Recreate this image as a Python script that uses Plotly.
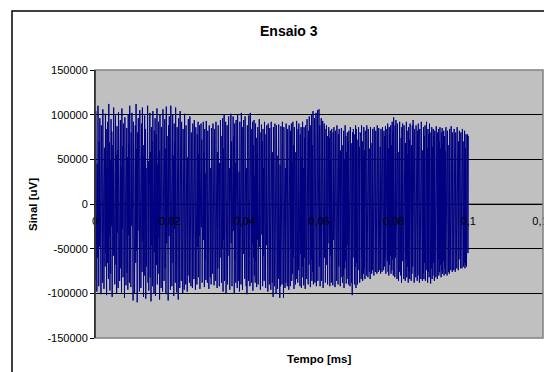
import plotly.graph_objects as go

# Signal values, in thousands of uV (one row = 0.002 ms)
sinal_mil_uV = [
    62, -85, 104, -30, 77, -98, 45, -60, 110, 20, -92, 70, -48, 96, -75, 35, -101, 88, -20, 58,
    -88, 106, -40, 74, -95, 25, 63, -70, 101, -55, 84, -102, 40, -66, 92, 15, -84, 112, -36, 69,
    -97, 50, -78, 95, -25, 81, -104, 30, 66, -58, 108, -45, 73, -90, 22, 99, -68, 55, -100, 87,
    -32, 60, -94, 103, -50, 76, -86, 18, 94, -72, 42, -99, 107, -28, 65, -82, 90, -60, 38, -105,
    97, -44, 70, -91, 28, 85, -77, 52, -96, 100, -35, 68, -88, 110, -62, 46, -93, 80, -24, 102,
    -83, 57, -108, 92, -40, 74, -100, 35, 88, -66, 112, -52, 62, -110, 80, -30, 96, -86, 45, -98,
    105, -58, 72, -94, 26, 90, -76, 108, -42, 66, -104, 54, -80, 99, -20, 84, -106, 40, -70, 94,
    -60, 110, -88, 48, -97, 76, -34, 102, -82, 58, -109, 86, -46, 70, -92, 104, -26, 64, -100, 82,
    -54, 96, -103, 38, 78, -68, 107, -90, 44, -78, 92, -38, 60, -107, 100, -64, 52, -94, 86, -30,
    72, -98, 106, -50, 80, -86, 30, 95, -72, 62, -101, 109, -44, 76, -90, 56, -108, 88, -36, 98,
    -74, 64, -96, 110, -48, 82, -92, 36, 100, -66, 54, -103, 90, -28, 70, -88, 108, -56, 44, -99,
    86, -40, 74, -107, 96, -62, 30, -94, 104, -50, 68, -86, 92, -34, 58, -100, 84, -70, 40, -96,
    101, -54, 66, -90, 88, -24, 76, -98, 52, -80, 95, -46, 62, -88, 98, -60, 36, -92, 80, -42,
    70, -94, 90, -30, 60, -84, 94, -52, 42, -96, 86, -66, 28, -90, 78, -48, 92, -82, 56, -36,
    88, -95, 64, -58, 90, -26, 72, -88, 46, -76, 92, -40, 58, -93, 84, -62, 34, -85, 93, -70,
    50, -88, 82, -44, 66, -95, 88, -30, 74, -82, 40, -90, 85, -56, 62, -78, 90, -36, 54, -91,
    84, -64, 30, -86, 92, -48, 70, -94, 58, -72, 88, -28, 80, -92, 46, -60, 94, -84, 36, -88,
    76, -50, 96, -98, 62, -40, 100, -86, 48, -70, 92, -100, 66, -34, 88, -90, 54, -78, 98, -58,
    40, -96, 84, -66, 101, -44, 70, -92, 56, -84, 98, -30, 76, -100, 90, -62, 46, -88, 94, -72,
    60, -94, 100, -50, 82, -86, 36, -98, 92, -64, 72, -90, 102, -40, 66, -96, 86, -56, 94, -80,
    48, -84, 98, -66, 78, -92, 40, -101, 88, -54, 70, -86, 99, -36, 62, -92, 102, -70, 50, -88,
    84, -44, 92, -97, 66, -60, 94, -80, 32, -88, 90, -64, 74, -93, 56, -40, 86, -90, 66, -72,
    95, -48, 80, -96, 54, -76, 89, -34, 70, -92, 84, -58, 40, -86, 92, -70, 60, -94, 78, -46,
    88, -82, 52, -98, 90, -62, 36, -90, 85, -74, 66, -96, 92, -50, 72, -88, 58, -104, 86, -40,
    76, -92, 90, -58, 64, -100, 88, -46, 70, -95, 54, -84, 89, -66, 80, -105, 44, -92, 87, -60,
    70, -90, 92, -48, 60, -105, 86, -72, 78, -94, 40, -88, 90, -64, 72, -92, 84, -36, 62, -96,
    88, -70, 56, -92, 82, -50, 90, -86, 46, -78, 92, -60, 66, -95, 86, -42, 74, -90, 58, -84,
    93, -66, 48, -88, 84, -74, 90, -30, 68, -92, 78, -56, 86, -94, 52, -70, 92, -82, 40, -91,
    86, -60, 74, -95, 88, -44, 62, -84, 95, -76, 56, -90, 82, -68, 98, -50, 70, -93, 88, -62,
    100, -86, 66, -76, 104, -90, 54, -72, 96, -88, 80, -40, 102, -92, 74, -64, 105, -86, 60, -80,
    106, -70, 88, -92, 58, -80, 96, -86, 72, -50, 93, -94, 64, -76, 90, -60, 84, -88, 46, -82,
    88, -68, 76, -90, 60, -85, 86, -44, 74, -92, 82, -58, 50, -88, 84, -72, 66, -91, 80, -40,
    86, -78, 56, -93, 82, -62, 70, -86, 88, -48, 64, -90, 78, -70, 84, -36, 72, -92, 60, -82,
    85, -56, 74, -88, 66, -80, 82, -94, 50, -72, 88, -64, 76, -89, 58, -84, 80, -46, 70, -90,
    82, -76, 62, -92, 86, -54, 74, -88, 68, -102, 80, -60, 84, -86, 52, -90, 78, -70, 88, -94,
    84, -66, 72, -90, 56, -82, 86, -74, 64, -88, 80, -48, 76, -84, 88, -60, 70, -86, 54, -78,
    86, -72, 60, -84, 82, -56, 74, -80, 88, -64, 52, -82, 84, -70, 78, -76, 62, -84, 86, -50,
    80, -78, 68, -74, 84, -60, 58, -80, 86, -68, 74, -76, 82, -52, 66, -78, 88, -70, 60, -76,
    85, -62, 76, -74, 64, -78, 84, -56, 72, -76, 86, -66, 58, -74, 82, -70, 76, -60, 87, -78,
    70, -72, 84, -64, 90, -76, 62, -80, 86, -68, 78, -58, 88, -78, 66, -74, 92, -62, 80, -80,
    97, -70, 76, -82, 88, -60, 94, -78, 64, -84, 90, -72, 80, -86, 58, -76, 92, -66, 84, -80,
    74, -88, 86, -64, 90, -80, 60, -84, 88, -74, 78, -86, 68, -62, 92, -82, 82, -70, 56, -88,
    86, -76, 72, -84, 90, -58, 80, -86, 66, -78, 88, -70, 94, -84, 62, -88, 84, -66, 76, -82,
    88, -72, 58, -86, 82, -80, 90, -62, 74, -88, 84, -76, 66, -84, 92, -70, 80, -86, 60, -78,
    86, -84, 76, -66, 88, -86, 70, -80, 92, -74, 62, -88, 84, -76, 78, -82, 90, -64, 84, -89,
    80, -72, 86, -84, 64, -80, 84, -66, 76, -86, 82, -70, 58, -82, 87, -74, 72, -84, 80, -62,
    84, -80, 70, -76, 86, -68, 62, -82, 80, -74, 85, -78, 68, -64, 82, -80, 76, -72, 60, -78,
    86, -70, 74, -80, 82, -62, 78, -76, 66, -78, 84, -72, 70, -74, 87, -66, 60, -76, 80, -70,
    78, -74, 84, -66, 72, -76, 80, -70, 64, -72, 86, -68, 76, -74, 70, -62, 82, -70, 74, -72,
    80, -68, 66, -72, 84, -64, 76, -70, 70, -66, 82, -72, 62, -68, 78, -70, 76, -60, 78, -55,
    76,
]

t_final_ms = 0.1
y_tick_vals = [-150000, -100000, -50000, 0, 50000, 100000, 150000]
y_tick_text = ["-150000", "-100000", "-50000", "0", "50000", "100000", "150000"]
x_tick_vals = [0, 0.02, 0.04, 0.06, 0.08, 0.1, 0.12]
x_tick_text = ["0", "0,02", "0,04", "0,06", "0,08", "0,1", "0,12"]

n = len(sinal_mil_uV)
tempo = [t_final_ms * i / (n - 1) for i in range(n)]
sinal = [v * 1000 for v in sinal_mil_uV]

FONT = "Liberation Sans, Arial, sans-serif"

fig = go.Figure()
fig.add_trace(go.Scatter(
    x=tempo, y=sinal, mode="lines",
    line=dict(color="#000080", width=1),
    showlegend=False, hoverinfo="skip",
))

# page body has an 8px default margin: the figure starts at (8, 8)
OFF = 8
W, H = 552 - OFF, 372 - OFF
# target pixel positions in the page
PL, PR, PT, PB = 95, 543, 70, 338
L, T = PL - OFF, PT - OFF
R = W - (PR - OFF)
B = H - (PB - OFF)
pw, ph = W - L - R, H - T - B

def px_x(p):  # page pixel -> paper
    return (p - PL) / pw

def px_y(p):
    return (PB - p) / ph

fig.update_layout(
    width=W, height=H,
    margin=dict(l=L, r=R, t=T, b=B, autoexpand=False),
    paper_bgcolor="white",
    plot_bgcolor="#C0C0C0",
    font=dict(family=FONT, size=11, color="black"),
    xaxis=dict(
        range=[0, 0.12], tickvals=x_tick_vals, ticktext=x_tick_text,
        showgrid=False, zeroline=False, showline=False,
        anchor="free", position=0.5,
        ticks="outside", ticklen=7, tickcolor="rgba(0,0,0,0)",
        ticklabeloverflow="allow",
        tickfont=dict(family=FONT, size=11, color="black"),
        fixedrange=True,
    ),
    yaxis=dict(
        range=[-150000, 150000], tickvals=y_tick_vals, ticktext=y_tick_text,
        showgrid=True, gridcolor="black", gridwidth=1,
        zeroline=False,
        showline=True, linecolor="black", linewidth=1,
        ticks="outside", ticklen=4, tickcolor="black",
        tickfont=dict(family=FONT, size=11, color="black"),
        domain=[0, 1], fixedrange=True,
    ),
    shapes=[
        # x axis line at y = 0, below the signal
        dict(type="line", xref="paper", yref="y", x0=0, x1=1, y0=0, y1=0,
             line=dict(color="#808080", width=2), layer="between"),
        # plot-area border (gray)
        dict(type="rect", xref="paper", yref="paper", x0=0, x1=1, y0=0, y1=1,
             line=dict(color="#808080", width=1.5), layer="above"),
        # y axis line redrawn on top of border
        dict(type="line", xref="paper", yref="paper", x0=0, x1=0, y0=0, y1=1,
             line=dict(color="black", width=1), layer="above"),
        # outer chart border
        dict(type="rect", xref="paper", yref="paper",
             x0=px_x(12), x1=px_x(560), y0=px_y(380), y1=px_y(11),
             line=dict(color="black", width=1.5), layer="above"),
    ],
    annotations=[
        dict(text="<b>Ensaio 3</b>", xref="paper", yref="paper",
             x=px_x(289), y=px_y(31), showarrow=False,
             xanchor="center", yanchor="middle",
             font=dict(family=FONT, size=14, color="black")),
        dict(text="<b>Tempo [ms]</b>", xref="paper", yref="paper",
             x=0.5, y=px_y(359), showarrow=False,
             xanchor="center", yanchor="middle",
             font=dict(family=FONT, size=11.5, color="black")),
        dict(text="<b>Sinal [uV]</b>", xref="paper", yref="paper",
             x=px_x(33), y=px_y(205), showarrow=False, textangle=-90,
             xanchor="center", yanchor="middle",
             font=dict(family=FONT, size=11.5, color="black")),
    ],
)

fig.write_html(
    "out.html",
    post_script="document.documentElement.style.overflow='hidden';"
                "document.body.style.overflow='hidden';",
)
